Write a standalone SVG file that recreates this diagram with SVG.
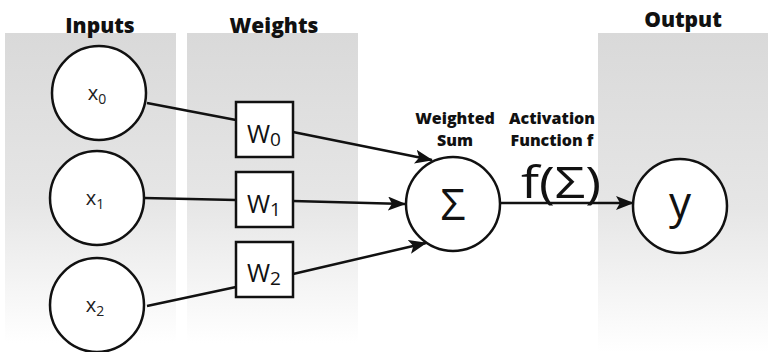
<svg xmlns="http://www.w3.org/2000/svg" width="768" height="352" viewBox="0 0 768 352">
  <defs>
    <linearGradient id="panelFill" x1="0" y1="0" x2="0" y2="1">
      <stop offset="0" stop-color="#d9d9d9"/>
      <stop offset="0.55" stop-color="#e6e6e6"/>
      <stop offset="1" stop-color="#ffffff"/>
    </linearGradient>
    <marker id="arrow" viewBox="0 0 18 14" markerWidth="18" markerHeight="14" refX="17" refY="7" orient="auto" markerUnits="userSpaceOnUse">
      <path d="M0,0 L18,7 L0,14 L4,7 Z" fill="#111"/>
    </marker>
  </defs>
  <style>
    .panel { fill: url(#panelFill); }
    .node { fill: #fff; stroke: #111; stroke-width: 2.5; }
    .link { stroke: #111; stroke-width: 2.5; fill: none; }
    .head { font-family: "Open Sans", "Liberation Sans", sans-serif; font-weight: 800; font-size: 21px; fill: #111; text-anchor: middle; }
    .small { font-family: "Open Sans", "Liberation Sans", sans-serif; font-weight: 800; font-size: 16px; fill: #111; text-anchor: middle; }
    .xin { font-family: "Open Sans", "Liberation Sans", sans-serif; font-size: 20px; fill: #222; text-anchor: middle; }
    .wlab { font-family: "Open Sans", "Liberation Sans", sans-serif; font-size: 25px; fill: #111; text-anchor: middle; }
    .big { font-family: "Open Sans", "Liberation Sans", sans-serif; font-size: 44px; fill: #111; text-anchor: middle; }
  </style>

  <rect width="768" height="352" fill="#fff"/>

  <!-- column backgrounds -->
  <rect class="panel" x="5" y="33" width="171" height="310"/>
  <rect class="panel" x="187" y="33" width="171" height="310"/>
  <rect class="panel" x="598" y="33" width="170" height="319"/>

  <!-- column headings -->
  <text class="head" x="100" y="33">Inputs</text>
  <text class="head" x="274" y="33">Weights</text>
  <text class="head" x="683" y="27">Output</text>
  <text class="small" x="455" y="124">Weighted</text>
  <text class="small" x="455" y="146">Sum</text>
  <text class="small" x="552" y="124">Activation</text>
  <text class="small" x="552" y="146">Function f</text>

  <!-- connectors -->
  <g id="connectors">
    <line class="link" x1="147" y1="103" x2="236" y2="120"/>
    <line class="link" x1="144" y1="198" x2="236" y2="200"/>
    <line class="link" x1="147" y1="306" x2="236" y2="287"/>
    <line class="link" x1="293" y1="132" x2="432" y2="160" marker-end="url(#arrow)"/>
    <line class="link" x1="293" y1="201" x2="405" y2="204" marker-end="url(#arrow)"/>
    <line class="link" x1="293" y1="274" x2="426" y2="243" marker-end="url(#arrow)"/>
    <line class="link" x1="500" y1="203" x2="633" y2="203" marker-end="url(#arrow)"/>
    <text class="big" x="561" y="198" font-size="42" textLength="80" lengthAdjust="spacingAndGlyphs">f(Σ)</text>
  </g>

  <!-- input nodes -->
  <g id="x0">
    <circle class="node" cx="99" cy="93" r="47"/>
    <text class="xin" x="97" y="100">x<tspan font-size="14" dy="4">0</tspan></text>
  </g>
  <g id="x1">
    <circle class="node" cx="97" cy="198" r="47"/>
    <text class="xin" x="95" y="205">x<tspan font-size="14" dy="4">1</tspan></text>
  </g>
  <g id="x2">
    <circle class="node" cx="97" cy="305" r="47"/>
    <text class="xin" x="95" y="312">x<tspan font-size="14" dy="4">2</tspan></text>
  </g>

  <!-- weight nodes -->
  <g id="w0">
    <rect class="node" x="236" y="102" width="57" height="55"/>
    <text class="wlab" x="264" y="143">W<tspan font-size="19" dy="3">0</tspan></text>
  </g>
  <g id="w1">
    <rect class="node" x="236" y="172" width="57" height="55"/>
    <text class="wlab" x="264" y="213">W<tspan font-size="19" dy="3">1</tspan></text>
  </g>
  <g id="w2">
    <rect class="node" x="236" y="242" width="57" height="55"/>
    <text class="wlab" x="264" y="282">W<tspan font-size="19" dy="3">2</tspan></text>
  </g>

  <!-- summation node -->
  <g id="sum">
    <circle class="node" cx="453" cy="204" r="47"/>
    <text class="big" x="453" y="220" font-size="40">Σ</text>
  </g>

  <!-- output node -->
  <g id="y">
    <circle class="node" cx="680" cy="206" r="47"/>
    <text class="big" x="680" y="218">y</text>
  </g>
</svg>
